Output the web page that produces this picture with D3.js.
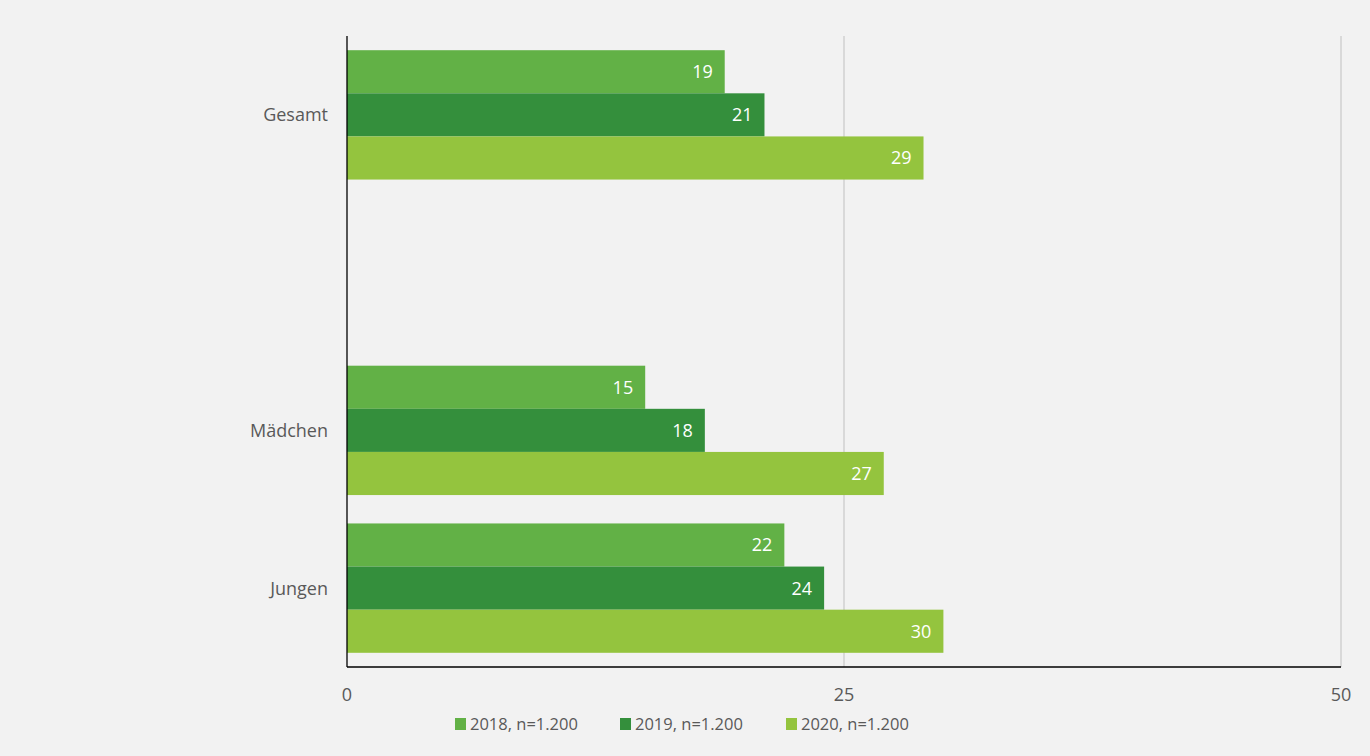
<!DOCTYPE html>
<html>
<head>
<meta charset="utf-8">
<script src="https://cdn.jsdelivr.net/npm/d3@7"></script>
<style>
    body { margin: 0; background: #f2f2f2; }
    svg { display: block; }
    text { font-family: "Open Sans", "Noto Sans", sans-serif; }
</style>
</head>
<body>
<div id="chart"></div>
<script>
// Chart data
const categories = ["Gesamt", " ", "Mädchen", "Jungen"];
const seriesNames = ["2018, n=1.200", "2019, n=1.200", "2020, n=1.200"];
const values2018 = [19, null, 15, 22];
const values2019 = [21, null, 18, 24];
const values2020 = [29, null, 27, 30];
const xTicks = [0, 25, 50];

const seriesValues = [values2018, values2019, values2020];
const colors = ["#62b146", "#348f3c", "#94c43e"];

const W = 1370, H = 756;
const margin = { top: 36, right: 29, bottom: 89, left: 347 };
const width = W - margin.left - margin.right;
const height = H - margin.top - margin.bottom;

const svg = d3.select("#chart").append("svg")
    .attr("width", W)
    .attr("height", H);

svg.append("rect")
    .attr("width", W)
    .attr("height", H)
    .attr("fill", "#f2f2f2");

const g = svg.append("g")
    .attr("transform", `translate(${margin.left},${margin.top})`);

const x = d3.scaleLinear().domain([0, 50]).range([0, width]);
const y = d3.scaleBand().domain(categories).range([0, height]).paddingInner(0.18).paddingOuter(0.09);
const ySub = d3.scaleBand().domain(d3.range(seriesNames.length)).range([0, y.bandwidth()]);

// Gridlines
g.selectAll("line.grid")
    .data(xTicks.filter(d => d > 0))
    .join("line")
    .attr("class", "grid")
    .attr("x1", d => x(d)).attr("x2", d => x(d))
    .attr("y1", 0).attr("y2", height)
    .attr("stroke", "#d9d9d9")
    .attr("stroke-width", 2);

// Bars
const rows = [];
categories.forEach((c, i) => {
    seriesValues.forEach((vals, s) => {
        if (vals[i] != null) rows.push({ cat: c, s: s, v: vals[i] });
    });
});

g.selectAll("rect.bar")
    .data(rows)
    .join("rect")
    .attr("class", "bar")
    .attr("x", 0)
    .attr("y", d => y(d.cat) + ySub(d.s))
    .attr("width", d => x(d.v))
    .attr("height", ySub.bandwidth())
    .attr("fill", d => colors[d.s]);

g.selectAll("text.val")
    .data(rows)
    .join("text")
    .attr("class", "val")
    .attr("x", d => x(d.v) - 12)
    .attr("y", d => y(d.cat) + ySub(d.s) + ySub.bandwidth() / 2)
    .attr("dy", "0.36em")
    .attr("text-anchor", "end")
    .attr("fill", "#ffffff")
    .attr("font-size", 18)
    .text(d => d.v);

// Category labels
g.selectAll("text.cat")
    .data(categories)
    .join("text")
    .attr("class", "cat")
    .attr("x", -19)
    .attr("y", d => y(d) + y.bandwidth() / 2)
    .attr("dy", "0.36em")
    .attr("text-anchor", "end")
    .attr("fill", "#595959")
    .attr("font-size", 18)
    .text(d => d.trim());

// Axis lines
g.append("line")
    .attr("x1", 0).attr("x2", 0)
    .attr("y1", 0).attr("y2", height)
    .attr("stroke", "#000").attr("stroke-width", 1.3);
g.append("line")
    .attr("x1", 0).attr("x2", width)
    .attr("y1", height).attr("y2", height)
    .attr("stroke", "#000").attr("stroke-width", 1.3);

// X tick labels
g.selectAll("text.tick")
    .data(xTicks)
    .join("text")
    .attr("class", "tick")
    .attr("x", d => x(d))
    .attr("y", height + 28)
    .attr("dy", "0.36em")
    .attr("text-anchor", "middle")
    .attr("fill", "#595959")
    .attr("font-size", 18)
    .text(d => d);

// Legend
const legendX = [455, 620, 786];
const legend = svg.selectAll("g.legend")
    .data(seriesNames)
    .join("g")
    .attr("class", "legend")
    .attr("transform", (d, i) => `translate(${legendX[i]},724)`);

legend.append("rect")
    .attr("x", 0).attr("y", -6)
    .attr("width", 11).attr("height", 12)
    .attr("fill", (d, i) => colors[i]);

legend.append("text")
    .attr("x", 15)
    .attr("dy", "0.36em")
    .attr("fill", "#595959")
    .attr("font-size", 16.5)
    .text(d => d);
</script>
</body>
</html>
